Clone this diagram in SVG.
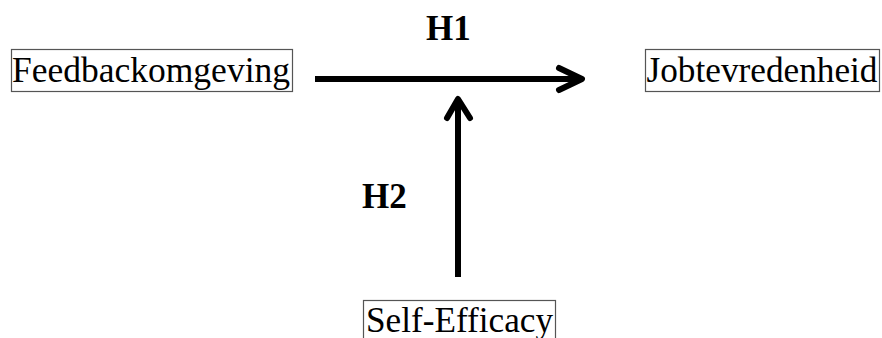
<svg xmlns="http://www.w3.org/2000/svg" width="882" height="338" viewBox="0 0 882 338">
<style>
.box{fill:#fff;stroke:#555;stroke-width:1.2}
.lbl{font-family:"Liberation Serif","Times New Roman",serif;font-size:35.5px;fill:#000}
.h{font-family:"Liberation Serif","Times New Roman",serif;font-size:35px;font-weight:bold;fill:#000}
.shaft{stroke:#000;stroke-width:6;fill:none}
.head{stroke:#000;stroke-width:6;fill:none;stroke-linecap:round;stroke-linejoin:round}
</style>
<rect width="882" height="338" fill="#fff"/>
<g id="connectors">
<g id="h1-arrow">
<line class="shaft" x1="315" y1="79" x2="580" y2="79"/>
<polyline class="head" points="559,68 582,79 559,90"/>
</g>
<g id="h2-arrow">
<line class="shaft" x1="458" y1="277" x2="458" y2="101"/>
<polyline class="head" points="447,118 458,99 470,118"/>
</g>
<text class="h" x="426" y="40">H1</text>
<text class="h" x="362" y="208">H2</text>
</g>
<g id="feedbackomgeving">
<rect class="box" x="11.5" y="49.5" width="281" height="42"/>
<text class="lbl" x="12" y="82" textLength="278" lengthAdjust="spacingAndGlyphs">Feedbackomgeving</text>
</g>
<g id="jobtevredenheid">
<rect class="box" x="645.5" y="49.5" width="234" height="42"/>
<text class="lbl" x="646.5" y="82" textLength="231" lengthAdjust="spacingAndGlyphs">Jobtevredenheid</text>
</g>
<g id="self-efficacy">
<rect class="box" x="363.5" y="300.5" width="192" height="50"/>
<text class="lbl" x="366" y="332" textLength="187" lengthAdjust="spacingAndGlyphs">Self-Efficacy</text>
</g>
</svg>
